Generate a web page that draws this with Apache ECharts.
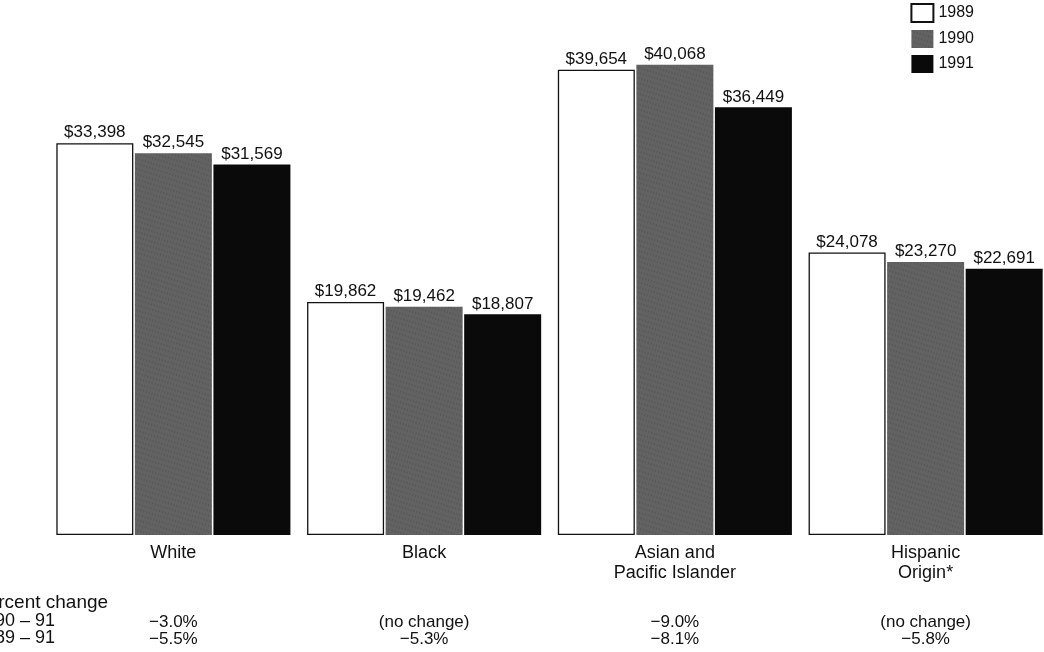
<!DOCTYPE html>
<html>
<head>
<meta charset="utf-8">
<script src="https://cdn.jsdelivr.net/npm/echarts@6/dist/echarts.min.js"></script>
<style>
  html, body { margin: 0; padding: 0; background: #fff; }
  #main { width: 1044px; height: 652px; }
</style>
</head>
<body>
<div id="main"></div>
<script>
var categories = ['White', 'Black', 'Asian and\nPacific Islander', 'Hispanic\nOrigin*'];
var years = ['1989', '1990', '1991'];
var income1989 = [33398, 19862, 39654, 24078];
var income1990 = [32545, 19462, 40068, 23270];
var income1991 = [31569, 18807, 36449, 22691];
var change9091 = ['\u22123.0%', '(no change)', '\u22129.0%', '(no change)'];
var change8991 = ['\u22125.5%', '\u22125.3%', '\u22128.1%', '\u22125.8%'];

var font = '"Liberation Sans", Arial, Helvetica, sans-serif';
var chartDom = document.getElementById('main');
var myChart = echarts.init(chartDom);

function fmt(v) {
  return '$' + v.toLocaleString('en-US');
}

var label = {
  show: true,
  position: 'top',
  distance: 2,
  color: '#111',
  fontSize: 17,
  fontFamily: font,
  formatter: function (p) { return fmt(p.value); }
};

// extra category axes used only to print the percent change rows
function changeAxis(margin, texts) {
  return {
    type: 'category',
    data: categories,
    position: 'bottom',
    axisLine: { show: false },
    axisTick: { show: false },
    axisLabel: {
      margin: margin,
      interval: 0,
      color: '#111',
      fontSize: 17,
      lineHeight: 17,
      fontFamily: font,
      formatter: function (v, i) { return texts[i]; }
    }
  };
}

var option = {
  backgroundColor: '#fff',
  animation: false,
  legend: {
    orient: 'vertical',
    right: 70,
    top: 3,
    padding: 0,
    icon: 'rect',
    itemWidth: 22,
    itemHeight: 18,
    itemGap: 7,
    textStyle: { fontSize: 16, fontFamily: font, color: '#111' },
    data: years
  },
  grid: { left: 48, width: 1003, top: 7, bottom: 117, outerBoundsMode: 'none' },
  xAxis: [
    {
      type: 'category',
      data: categories,
      axisLine: { show: false },
      axisTick: { show: false },
      axisLabel: {
        margin: 8,
        interval: 0,
        color: '#111',
        fontSize: 18,
        lineHeight: 20,
        fontFamily: font
      }
    },
    changeAxis(79, change9091),
    changeAxis(96, change8991)
  ],
  yAxis: {
    type: 'value',
    min: 0,
    max: 45000,
    show: false
  },
  series: [
    {
      name: years[0],
      type: 'bar',
      data: income1989,
      barWidth: 77,
      barGap: '2%',
      itemStyle: { color: '#fff', borderColor: '#111', borderWidth: 1.3 },
      label: label
    },
    {
      name: years[1],
      type: 'bar',
      data: income1990,
      barWidth: 77,
      barGap: '2%',
      itemStyle: {
        color: '#626262',
        decal: {
          symbol: 'rect',
          symbolSize: 0.6,
          color: 'rgba(15,15,15,0.5)',
          dashArrayX: [1, 2],
          dashArrayY: [2, 3],
          rotation: 0.3
        }
      },
      label: label
    },
    {
      name: years[2],
      type: 'bar',
      data: income1991,
      barWidth: 77,
      barGap: '2%',
      itemStyle: { color: '#0a0a0a' },
      label: label
    }
  ],
  graphic: [
    {
      type: 'text',
      left: -25,
      top: 593,
      style: { text: 'Percent change', fontSize: 19, fontFamily: font, fill: '#111' }
    },
    {
      type: 'text',
      left: -25,
      top: 612,
      style: { text: '1990 \u2013 91', fontSize: 18, fontFamily: font, fill: '#111' }
    },
    {
      type: 'text',
      left: -25,
      top: 629,
      style: { text: '1989 \u2013 91', fontSize: 18, fontFamily: font, fill: '#111' }
    }
  ]
};

myChart.setOption(option);
</script>
</body>
</html>
